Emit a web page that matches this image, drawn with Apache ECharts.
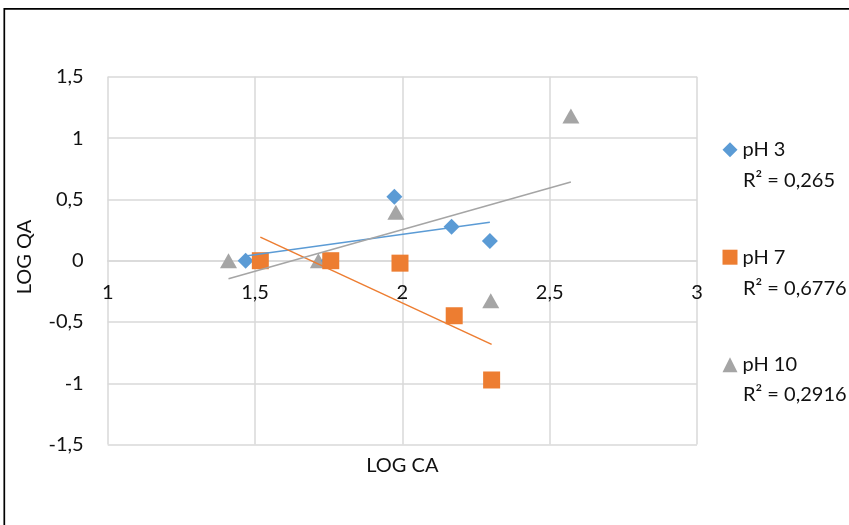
<!DOCTYPE html>
<html>
<head>
<meta charset="utf-8">
<script src="https://cdn.jsdelivr.net/npm/echarts@6/dist/echarts.min.js"></script>
<style>
html,body{margin:0;padding:0;background:#fff;}
#chart{width:849px;height:525px;}
</style>
</head>
<body>
<div id="chart"></div>
<script>
// ---- data ----
const seriesNames = ['pH 3', 'pH 7', 'pH 10'];
const ph3X = [1.468, 1.75, 1.973, 2.167, 2.297];
const ph3Y = [0, 0, 0.522, 0.277, 0.161];
const ph7X = [1.518, 1.757, 1.992, 2.176, 2.303];
const ph7Y = [0, 0, -0.02, -0.449, -0.973];
const ph10X = [1.41, 1.715, 1.978, 2.30, 2.572];
const ph10Y = [0, 0, 0.395, -0.326, 1.18];
const r2Labels = ['R² = 0,265', 'R² = 0,6776', 'R² = 0,2916'];
const xAxisTitle = 'LOG CA';
const yAxisTitle = 'LOG QA';
const xRange = [1, 3, 0.5];
const yRange = [-1.5, 1.5, 0.5];

const colors = ['#5B9BD5', '#ED7D31', '#A5A5A5'];
const FONT = 'Lato';
const FS = 20;
const TXT = '#111';

function pairs(xs, ys) { return xs.map((x, i) => [x, ys[i]]); }
// least-squares linear trendline over the data range (as Excel does)
function trend(xs, ys) {
  const n = xs.length;
  const mx = xs.reduce((a, b) => a + b, 0) / n;
  const my = ys.reduce((a, b) => a + b, 0) / n;
  let sxy = 0, sxx = 0;
  for (let i = 0; i < n; i++) { sxy += (xs[i] - mx) * (ys[i] - my); sxx += (xs[i] - mx) ** 2; }
  const b = sxy / sxx, a = my - b * mx;
  const x0 = Math.min(...xs), x1 = Math.max(...xs);
  return [[x0, a + b * x0], [x1, a + b * x1]];
}
const fmt = v => String(v).replace('.', ',');

const GRID = {left: 107.7, right: 152, top: 76.8, bottom: 80.4};
const plotH = 525 - GRID.top - GRID.bottom;
// move the horizontal axis up to y = 0 (where it crosses in the original)
const xAxisOffset = -plotH * (0 - yRange[0]) / (yRange[1] - yRange[0]);

const chart = echarts.init(document.getElementById('chart'), null, {renderer: 'canvas'});

const scatterBase = (name, data, symbol, size, color, z) => ({
  name, type: 'scatter', data, symbol, symbolSize: size, z,
  itemStyle: {color, opacity: 1}, emphasis: {disabled: true}
});
const trendBase = (name, data, color) => ({
  name, type: 'line', data, showSymbol: false, symbol: 'none', z: 10, silent: true,
  lineStyle: {color, width: 1.5}, emphasis: {disabled: true}
});
const txt = (text, x, y, extra) => Object.assign({type: 'text', x, y,
  style: {text, fontFamily: FONT, fontSize: FS, fill: TXT, textAlign: 'left', textVerticalAlign: 'middle'}}, extra || {});

chart.setOption({
  animation: false,
  textStyle: {fontFamily: FONT},
  grid: Object.assign({containLabel: false}, GRID),
  xAxis: {
    type: 'value', min: xRange[0], max: xRange[1], interval: xRange[2],
    position: 'bottom', offset: xAxisOffset,
    axisLine: {show: true, onZero: false, lineStyle: {color: '#d9d9d9', width: 1.5}},
    axisTick: {show: false},
    axisLabel: {fontFamily: FONT, fontSize: FS, color: TXT, margin: 21.5, formatter: fmt},
    splitLine: {show: true, lineStyle: {color: '#d9d9d9', width: 1.5}}
  },
  yAxis: {
    type: 'value', min: yRange[0], max: yRange[1], interval: yRange[2],
    axisLine: {show: false, onZero: false},
    axisTick: {show: false},
    axisLabel: {fontFamily: FONT, fontSize: FS, color: TXT, margin: 24, formatter: fmt},
    splitLine: {show: true, lineStyle: {color: '#d9d9d9', width: 1.5}}
  },
  legend: {
    data: seriesNames,
    orient: 'vertical', left: 722.5, top: 139.7, padding: 0,
    itemWidth: 15, itemHeight: 15, itemGap: 87.5,
    textStyle: {fontFamily: FONT, fontSize: FS, color: TXT, lineHeight: 20},
    selectedMode: false
  },
  series: [
    scatterBase(seriesNames[2], pairs(ph10X, ph10Y), 'triangle', [17, 15], colors[2], 2),
    scatterBase(seriesNames[0], pairs(ph3X, ph3Y), 'diamond', 16, colors[0], 3),
    scatterBase(seriesNames[1], pairs(ph7X, ph7Y), 'rect', 17, colors[1], 4),
    trendBase('trend pH 3', trend(ph3X, ph3Y), colors[0]),
    trendBase('trend pH 7', trend(ph7X, ph7Y), colors[1]),
    trendBase('trend pH 10', trend(ph10X, ph10Y), colors[2])
  ],
  graphic: [
    {type: 'rect', shape: {x: 4.3, y: 8.8, width: 2000, height: 2000}, style: {fill: 'none', stroke: '#000', lineWidth: 1.7}, silent: true},
    {type: 'text', x: 402.3, y: 466, style: {text: xAxisTitle, fontFamily: FONT, fontSize: FS, fill: TXT, textAlign: 'center', textVerticalAlign: 'middle'}},
    {type: 'text', x: 25, y: 257, rotation: Math.PI / 2, style: {text: yAxisTitle, fontFamily: FONT, fontSize: FS, fill: TXT, textAlign: 'center', textVerticalAlign: 'middle'}},
    txt(r2Labels[0], 743, 180.3),
    txt(r2Labels[1], 743, 288.3),
    txt(r2Labels[2], 743, 394.7)
  ]
});
</script>
</body>
</html>
